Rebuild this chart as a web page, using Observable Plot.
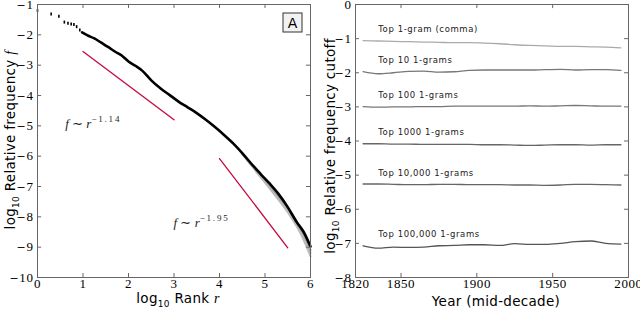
<!DOCTYPE html>
<html><head><meta charset="utf-8">
<script src="https://cdn.jsdelivr.net/npm/d3@7"></script>
<script src="https://cdn.jsdelivr.net/npm/@observablehq/plot@0.6"></script>
<style>
body{margin:0;background:#fff}
#wrap{display:flex;width:640px;height:313px;overflow:hidden}
svg{display:block}
</style>
</head><body><div id="wrap"></div>
<script>
// ---------- Panel A data ----------
const dotRank = [0.0, 0.30, 0.47, 0.59, 0.67, 0.74, 0.80, 0.86, 0.93];
const dotFreq = [-1.2, -1.31, -1.39, -1.58, -1.62, -1.64, -1.66, -1.73, -1.84];
const curveRank = [0.98,1.1,1.25,1.4,1.55,1.7,1.85,2.0,2.15,2.3,2.5,2.7,2.9,3.1,3.3,3.5,3.7,3.9,4.1,4.3,4.5,4.7,4.9,5.1,5.3,5.5,5.7,5.85,6.0];
const curveFreq = [-1.92,-2.02,-2.12,-2.26,-2.40,-2.55,-2.68,-2.88,-3.02,-3.18,-3.50,-3.76,-3.98,-4.20,-4.39,-4.58,-4.80,-5.04,-5.30,-5.58,-5.90,-6.25,-6.58,-6.90,-7.25,-7.68,-8.18,-8.50,-8.98];
const spreadRank1 = [4.5,4.9,5.3,5.6,5.8,6.0];
const spreadFreq1 = [-5.93,-6.65,-7.35,-7.95,-8.45,-9.1];
const spreadRank2 = [4.6,5.0,5.4,5.7,5.9,6.0];
const spreadFreq2 = [-6.12,-6.85,-7.6,-8.25,-8.8,-9.2];
const spreadRank3 = [4.8,5.2,5.5,5.8,6.0];
const spreadFreq3 = [-6.5,-7.25,-7.85,-8.6,-9.3];
const fitRank1 = [1.0, 3.0];  const fitFreq1 = [-2.55, -4.80];
const fitRank2 = [4.0, 5.5];  const fitFreq2 = [-6.08, -9.02];
const fitLabels = [
  {x: 0.62, y: -5.09, exp: "−1.14"},
  {x: 3.0, y: -8.36, exp: "−1.95"}
];
const xTicksA = [0,1,2,3,4,5,6];
const yTicksA = [-10,-9,-8,-7,-6,-5,-4,-3,-2,-1];

// ---------- Panel B data ----------
const years = [1825,1835,1845,1855,1865,1875,1885,1895,1905,1915,1925,1935,1945,1955,1965,1975,1985,1995];
const seriesNames = ["Top 1-gram (comma)","Top 10 1-grams","Top 100 1-grams","Top 1000 1-grams","Top 10,000 1-grams","Top 100,000 1-grams"];
const top1      = [-1.06,-1.07,-1.08,-1.09,-1.10,-1.11,-1.12,-1.12,-1.13,-1.15,-1.18,-1.20,-1.21,-1.23,-1.23,-1.24,-1.25,-1.27];
const top10     = [-1.97,-2.03,-2.00,-1.96,-1.95,-1.98,-1.97,-1.93,-1.92,-1.92,-1.92,-1.92,-1.91,-1.90,-1.92,-1.91,-1.91,-1.93];
const top100    = [-2.99,-3.01,-3.00,-3.00,-2.99,-2.99,-2.98,-2.98,-2.98,-2.98,-2.98,-2.97,-2.98,-2.97,-2.96,-2.97,-2.98,-2.98];
const top1000   = [-4.08,-4.08,-4.09,-4.09,-4.10,-4.10,-4.10,-4.10,-4.11,-4.11,-4.12,-4.13,-4.12,-4.11,-4.11,-4.12,-4.11,-4.11];
const top10000  = [-5.26,-5.26,-5.27,-5.28,-5.28,-5.27,-5.27,-5.28,-5.28,-5.28,-5.29,-5.29,-5.30,-5.29,-5.27,-5.27,-5.28,-5.29];
const top100000 = [-7.07,-7.14,-7.11,-7.12,-7.11,-7.07,-7.06,-7.04,-7.04,-7.06,-7.01,-7.03,-7.03,-7.00,-6.95,-6.93,-7.00,-7.02];
const xTicksB = [1820,1850,1900,1950,2000];
const yTicksB = [-8,-7,-6,-5,-4,-3,-2,-1,0];

// ---------- helpers ----------
const zip = (xs, ys) => xs.map((x, i) => ({x, y: ys[i]}));
const FRAME = "#666";
const serif = "Liberation Serif";
const sans = "DejaVu Sans";
const fmtNum = d => (d < 0 ? "\u2212" + Math.abs(d) : String(d));

function tickMarks(xt, yt, xd, yd, kx, ky) {
  return [
    Plot.ruleX(xt, {x: d => d, y1: yd[0], y2: yd[0] + ky, stroke: FRAME}),
    Plot.ruleX(xt, {x: d => d, y1: yd[1], y2: yd[1] - ky, stroke: FRAME}),
    Plot.ruleY(yt, {y: d => d, x1: xd[0], x2: xd[0] + kx, stroke: FRAME}),
    Plot.ruleY(yt, {y: d => d, x1: xd[1], x2: xd[1] - kx, stroke: FRAME})
  ];
}

function panelBox(svg, x, y, letter) {
  const g = d3.select(svg).append("g");
  g.append("rect").attr("x", x).attr("y", y).attr("width", 19).attr("height", 19)
    .attr("fill", "#f2f2f2").attr("stroke", "#333").attr("stroke-width", 1);
  g.append("text").attr("x", x + 9.5).attr("y", y + 14.5).attr("text-anchor", "middle")
    .attr("font-family", sans).attr("font-size", 14).attr("fill", "#000").text(letter);
}

function logLabel(svg, x, y, rotate, parts) {
  const t = d3.select(svg).append("text")
    .attr("transform", `translate(${x},${y})` + (rotate ? " rotate(-90)" : ""))
    .attr("text-anchor", "middle").attr("font-family", sans).attr("font-size", 13.5)
    .attr("letter-spacing", 0.3).attr("fill", "#000");
  t.append("tspan").text("log");
  t.append("tspan").attr("font-size", 9).attr("dy", 3.5).text("10");
  t.append("tspan").attr("dy", -3.5).text(parts[0]);
  if (parts[1]) t.append("tspan").attr("font-family", serif).attr("font-style", "italic").attr("font-size", 14).text(parts[1]);
}

// make tick-label minus signs clearly visible (a sturdier minus glyph)
function boldMinus(svg) {
  d3.select(svg).selectAll("g[aria-label='y-axis tick label'] text").each(function () {
    const s = this.textContent;
    if (s.startsWith("\u2212")) {
      const t = d3.select(this);
      t.text(null);
      t.append("tspan").attr("font-family", "DejaVu Serif").attr("font-size", 11).text("\u2212");
      t.append("tspan").text(s.slice(1));
    }
  });
}

// ---------- Panel A ----------
const xdA = [0, 6], ydA = [-10, -1];
const plotA = Plot.plot({
  width: 320, height: 313,
  marginLeft: 37, marginRight: 10, marginTop: 4, marginBottom: 36,
  x: {domain: xdA}, y: {domain: ydA},
  style: {fontFamily: serif, fontSize: "13px", color: "#000", background: "#fff"},
  marks: [
    Plot.line(zip(spreadRank1, spreadFreq1), {x: "x", y: "y", stroke: "#999", strokeWidth: 2, curve: "monotone-x"}),
    Plot.line(zip(spreadRank2, spreadFreq2), {x: "x", y: "y", stroke: "#aaa", strokeWidth: 2, curve: "monotone-x"}),
    Plot.line(zip(spreadRank3, spreadFreq3), {x: "x", y: "y", stroke: "#bbb", strokeWidth: 2, curve: "monotone-x"}),
    Plot.line(zip(curveRank, curveFreq), {x: "x", y: "y", stroke: "#000", strokeWidth: 2.6, curve: "monotone-x"}),
    Plot.link(zip(dotRank, dotFreq), {x1: "x", x2: "x", y1: d => d.y + 0.05, y2: d => d.y - 0.05, stroke: "#000", strokeWidth: 1.6}),
    Plot.line(zip(fitRank1, fitFreq1), {x: "x", y: "y", stroke: "#c4093c", strokeWidth: 1.3}),
    Plot.line(zip(fitRank2, fitFreq2), {x: "x", y: "y", stroke: "#c4093c", strokeWidth: 1.3}),
    Plot.frame({stroke: FRAME}),
    ...tickMarks(xTicksA, yTicksA, xdA, ydA, 0.09, 0.13),
    Plot.axisX(xTicksA, {tickSize: 0, tickPadding: 1, label: null, fontFamily: serif, fontSize: 13}),
    Plot.axisY(yTicksA, {tickSize: 0, tickPadding: 4, label: null, tickFormat: fmtNum, fontFamily: serif, fontSize: 13})
  ]
});
{
  const sx = plotA.scale("x"), sy = plotA.scale("y");
  for (const f of fitLabels) {
    const t = d3.select(plotA).append("text")
      .attr("x", sx.apply(f.x)).attr("y", sy.apply(f.y)).attr("text-anchor", "start")
      .attr("font-family", serif).attr("font-size", 13).attr("fill", "#222");
    t.append("tspan").attr("font-style", "italic").text("f");
    t.append("tspan").text(" ∼ ");
    t.append("tspan").attr("font-style", "italic").text("r");
    t.append("tspan").attr("dy", -6).attr("font-size", 9).attr("letter-spacing", 1.8).text(f.exp);
  }
  panelBox(plotA, 283, 13, "A");
  logLabel(plotA, 15, 140, true, [" Relative frequency ", "f"]);
  logLabel(plotA, 178, 303, false, [" Rank ", "r"]);
}

// ---------- Panel B ----------
const xdB = [1820, 2000], ydB = [-8, 0];
const allSeries = [top1, top10, top100, top1000, top10000, top100000];
const seriesColors = ["#aaa", "#777", "#777", "#666", "#666", "#555"];
const tableB = [];
allSeries.forEach((vals, s) => vals.forEach((v, i) => tableB.push({series: seriesNames[s], year: years[i], value: v})));
const labelRows = seriesNames.map((name, s) => ({name, y: allSeries[s][0]}));

const plotB = Plot.plot({
  width: 320, height: 313,
  marginLeft: 35, marginRight: 12, marginTop: 4, marginBottom: 36,
  x: {domain: xdB}, y: {domain: ydB},
  color: {domain: seriesNames, range: seriesColors},
  style: {fontFamily: serif, fontSize: "13px", color: "#000", background: "#fff"},
  marks: [
    Plot.line(tableB, {x: "year", y: "value", z: "series", stroke: "series", strokeWidth: 1.3, curve: "monotone-x"}),
    Plot.text(labelRows, {x: () => 1835, y: "y", text: "name", dy: -11, textAnchor: "start", fontFamily: sans, fontSize: 8.5, fill: "#222"}),
    Plot.frame({stroke: FRAME}),
    ...tickMarks(xTicksB, yTicksB, xdB, ydB, 2.6, 0.12),
    Plot.axisX(xTicksB, {tickSize: 0, tickPadding: 1, label: null, tickFormat: d => String(d), fontFamily: serif, fontSize: 13}),
    Plot.axisY(yTicksB, {tickSize: 0, tickPadding: 4, label: null, tickFormat: fmtNum, fontFamily: serif, fontSize: 13})
  ]
});
d3.select(plotB).selectAll("g[aria-label='text'] text").attr("letter-spacing", 0.6);
{
  panelBox(plotB, 601, 13, "B");
  logLabel(plotB, 15, 146, true, [" Relative frequency cutoff", null]);
  d3.select(plotB).append("text").attr("x", 176).attr("y", 306).attr("text-anchor", "middle")
    .attr("font-family", sans).attr("font-size", 13.5).attr("letter-spacing", 0.3).attr("fill", "#000")
    .text("Year (mid-decade)");
}
for (const svg of [plotA, plotB]) {
  d3.select(svg).selectAll("g[aria-label='x-axis tick label'] text, g[aria-label='y-axis tick label'] text").attr("letter-spacing", 0.6);
  boldMinus(svg);
}
document.getElementById("wrap").append(plotA, plotB);
</script>
</body></html>
